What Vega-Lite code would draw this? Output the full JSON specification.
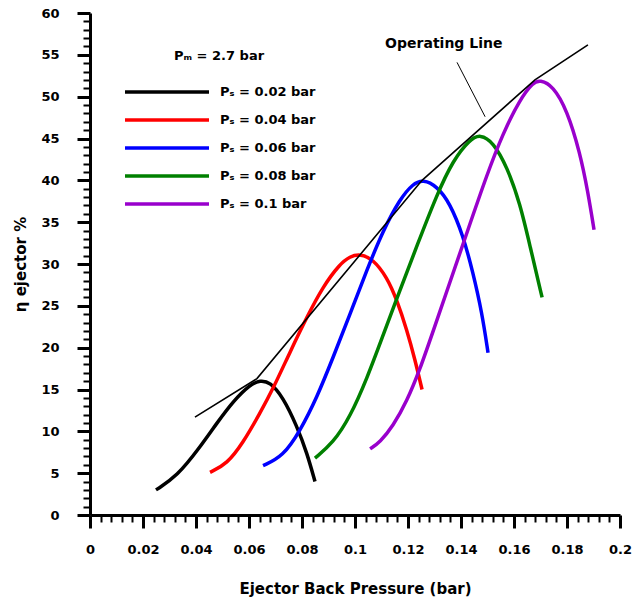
{
  "$schema": "https://vega.github.io/schema/vega-lite/v6.json",
  "width": 530,
  "height": 502,
  "autosize": {"type": "none"},
  "padding": {"left": 90, "top": 13, "right": 12, "bottom": 85},
  "config": {
    "view": {"stroke": null},
    "font": "DejaVu Sans",
    "axis": {"grid": false, "domainColor": "black", "tickColor": "black", "labelColor": "black", "titleColor": "black"}
  },
  "datasets": {
    "curves": [
      {"ps": 0.02, "x": 0.0249, "y": 3.0}, {"ps": 0.02, "x": 0.0328, "y": 4.6}, {"ps": 0.02, "x": 0.0415, "y": 8.1}, {"ps": 0.02, "x": 0.0479, "y": 11.0}, {"ps": 0.02, "x": 0.054, "y": 13.6}, {"ps": 0.02, "x": 0.0604, "y": 15.6}, {"ps": 0.02, "x": 0.0642, "y": 16.1}, {"ps": 0.02, "x": 0.0679, "y": 15.9}, {"ps": 0.02, "x": 0.0728, "y": 14.1}, {"ps": 0.02, "x": 0.0781, "y": 10.6}, {"ps": 0.02, "x": 0.0819, "y": 7.4}, {"ps": 0.02, "x": 0.0849, "y": 4.0},
      {"ps": 0.04, "x": 0.0453, "y": 5.1}, {"ps": 0.04, "x": 0.0517, "y": 6.1}, {"ps": 0.04, "x": 0.0577, "y": 8.6}, {"ps": 0.04, "x": 0.0642, "y": 12.2}, {"ps": 0.04, "x": 0.0691, "y": 15.1}, {"ps": 0.04, "x": 0.0755, "y": 19.5}, {"ps": 0.04, "x": 0.0819, "y": 23.7}, {"ps": 0.04, "x": 0.0879, "y": 27.3}, {"ps": 0.04, "x": 0.0943, "y": 30.0}, {"ps": 0.04, "x": 0.0981, "y": 30.9}, {"ps": 0.04, "x": 0.1019, "y": 31.2}, {"ps": 0.04, "x": 0.1068, "y": 30.6}, {"ps": 0.04, "x": 0.1121, "y": 28.4}, {"ps": 0.04, "x": 0.1158, "y": 25.7}, {"ps": 0.04, "x": 0.1196, "y": 22.1}, {"ps": 0.04, "x": 0.1226, "y": 18.6}, {"ps": 0.04, "x": 0.1253, "y": 15.0},
      {"ps": 0.06, "x": 0.0653, "y": 5.9}, {"ps": 0.06, "x": 0.0728, "y": 7.0}, {"ps": 0.06, "x": 0.0792, "y": 10.0}, {"ps": 0.06, "x": 0.0857, "y": 14.1}, {"ps": 0.06, "x": 0.0917, "y": 18.8}, {"ps": 0.06, "x": 0.0981, "y": 24.0}, {"ps": 0.06, "x": 0.1045, "y": 29.3}, {"ps": 0.06, "x": 0.1106, "y": 34.0}, {"ps": 0.06, "x": 0.117, "y": 37.8}, {"ps": 0.06, "x": 0.1219, "y": 39.6}, {"ps": 0.06, "x": 0.1257, "y": 40.1}, {"ps": 0.06, "x": 0.1309, "y": 39.3}, {"ps": 0.06, "x": 0.1358, "y": 37.3}, {"ps": 0.06, "x": 0.1408, "y": 33.4}, {"ps": 0.06, "x": 0.1445, "y": 29.0}, {"ps": 0.06, "x": 0.1479, "y": 24.2}, {"ps": 0.06, "x": 0.1502, "y": 19.4},
      {"ps": 0.08, "x": 0.0849, "y": 6.8}, {"ps": 0.08, "x": 0.0917, "y": 8.6}, {"ps": 0.08, "x": 0.0981, "y": 11.7}, {"ps": 0.08, "x": 0.1045, "y": 16.3}, {"ps": 0.08, "x": 0.1106, "y": 21.5}, {"ps": 0.08, "x": 0.117, "y": 26.9}, {"ps": 0.08, "x": 0.1234, "y": 32.2}, {"ps": 0.08, "x": 0.1309, "y": 38.3}, {"ps": 0.08, "x": 0.137, "y": 42.4}, {"ps": 0.08, "x": 0.1434, "y": 44.9}, {"ps": 0.08, "x": 0.1472, "y": 45.5}, {"ps": 0.08, "x": 0.1521, "y": 44.6}, {"ps": 0.08, "x": 0.1574, "y": 41.6}, {"ps": 0.08, "x": 0.1623, "y": 37.2}, {"ps": 0.08, "x": 0.166, "y": 32.2}, {"ps": 0.08, "x": 0.1706, "y": 26.0},
      {"ps": 0.1, "x": 0.1057, "y": 7.9}, {"ps": 0.1, "x": 0.1094, "y": 8.7}, {"ps": 0.1, "x": 0.1143, "y": 10.6}, {"ps": 0.1, "x": 0.1196, "y": 13.6}, {"ps": 0.1, "x": 0.1245, "y": 17.4}, {"ps": 0.1, "x": 0.1294, "y": 21.9}, {"ps": 0.1, "x": 0.1358, "y": 27.8}, {"ps": 0.1, "x": 0.1423, "y": 33.8}, {"ps": 0.1, "x": 0.1498, "y": 40.7}, {"ps": 0.1, "x": 0.1558, "y": 45.6}, {"ps": 0.1, "x": 0.1623, "y": 49.7}, {"ps": 0.1, "x": 0.1672, "y": 51.7}, {"ps": 0.1, "x": 0.1698, "y": 52.0}, {"ps": 0.1, "x": 0.1747, "y": 51.3}, {"ps": 0.1, "x": 0.18, "y": 48.4}, {"ps": 0.1, "x": 0.1849, "y": 43.3}, {"ps": 0.1, "x": 0.1879, "y": 38.6}, {"ps": 0.1, "x": 0.1902, "y": 34.1}
    ],
    "opline": [
      {"x": 0.0396, "y": 11.7}, {"x": 0.063, "y": 16.3}, {"x": 0.1253, "y": 40.0}, {"x": 0.1679, "y": 52.0}, {"x": 0.1879, "y": 56.2}
    ],
    "pointer": [
      {"x": 0.1385, "y": 54.1}, {"x": 0.1491, "y": 47.6}
    ],
    "notes": [
      {"x": 0.1335, "y": 56.3, "text": "Operating Line"}
    ]
  },
  "resolve": {"axis": {"x": "independent", "y": "independent"}},
  "layer": [
    {
      "data": {"name": "opline"},
      "mark": {"type": "point", "opacity": 0},
      "encoding": {
        "x": {"field": "x", "type": "quantitative", "scale": {"domain": [0, 0.2], "nice": false, "zero": false},
          "axis": {"orient": "bottom", "values": [0.004, 0.008, 0.012, 0.016, 0.024, 0.028, 0.032, 0.036, 0.044, 0.048, 0.052, 0.056, 0.064, 0.068, 0.072, 0.076, 0.084, 0.088, 0.092, 0.096, 0.104, 0.108, 0.112, 0.116, 0.124, 0.128, 0.132, 0.136, 0.144, 0.148, 0.152, 0.156, 0.164, 0.168, 0.172, 0.176, 0.184, 0.188, 0.192, 0.196], "labels": false, "domain": false, "tickSize": 7, "tickWidth": 2, "title": null}},
        "y": {"field": "y", "type": "quantitative", "scale": {"domain": [0, 60], "nice": false},
          "axis": {"orient": "left", "values": [1, 2, 3, 4, 6, 7, 8, 9, 11, 12, 13, 14, 16, 17, 18, 19, 21, 22, 23, 24, 26, 27, 28, 29, 31, 32, 33, 34, 36, 37, 38, 39, 41, 42, 43, 44, 46, 47, 48, 49, 51, 52, 53, 54, 56, 57, 58, 59], "labels": false, "domain": false, "tickSize": 7, "tickWidth": 2, "title": null}}
      }
    },
    {
      "data": {"name": "curves"},
      "mark": {"type": "line", "interpolate": "basis", "strokeWidth": 3.5, "strokeCap": "butt"},
      "encoding": {
        "x": {"field": "x", "type": "quantitative", "scale": {"domain": [0, 0.2], "nice": false, "zero": false},
          "axis": {"orient": "bottom", "values": [0, 0.02, 0.04, 0.06, 0.08, 0.1, 0.12, 0.14, 0.16, 0.18, 0.2], "format": "~g", "tickSize": 13, "tickWidth": 3, "domainWidth": 3, "labelFontSize": 13, "labelFontWeight": "bold", "labelPadding": 15, "labelFlush": false, "title": "Ejector Back Pressure (bar)", "titleFontSize": 15, "titleFontWeight": "bold", "titlePadding": 25}},
        "y": {"field": "y", "type": "quantitative", "scale": {"domain": [0, 60], "nice": false},
          "axis": {"orient": "left", "values": [0, 5, 10, 15, 20, 25, 30, 35, 40, 45, 50, 55, 60], "format": "d", "tickSize": 13, "tickWidth": 3, "domainWidth": 3, "labelFontSize": 13, "labelFontWeight": "bold", "labelPadding": 18, "labelFlush": false, "title": "η ejector %", "titleFontSize": 15, "titleFontWeight": "bold", "titlePadding": 12}},
        "color": {"field": "ps", "type": "nominal",
          "scale": {"domain": [0.02, 0.04, 0.06, 0.08, 0.1], "range": ["#000000", "#ff0000", "#0000ff", "#008000", "#9900cc"]},
          "legend": {"orient": "none", "legendX": 33, "legendY": 37, "padding": 0, "title": "Pₘ = 2.7 bar", "titleAnchor": "middle", "titleFontSize": 13, "titleFontWeight": "bold", "titlePadding": 21, "symbolType": "stroke", "symbolSize": 7056, "symbolStrokeWidth": 3.5, "clipHeight": 16, "rowPadding": 12, "labelOffset": 9, "labelFontSize": 13, "labelFontWeight": "bold", "labelLimit": 300, "labelExpr": "'Pₛ = ' + datum.label + ' bar'"}}
      }
    },
    {
      "data": {"name": "opline"},
      "mark": {"type": "line", "color": "black", "strokeWidth": 1.6},
      "encoding": {
        "x": {"field": "x", "type": "quantitative", "scale": {"domain": [0, 0.2], "nice": false, "zero": false}, "axis": null},
        "y": {"field": "y", "type": "quantitative", "scale": {"domain": [0, 60], "nice": false}, "axis": null}
      }
    },
    {
      "data": {"name": "pointer"},
      "mark": {"type": "line", "color": "black", "strokeWidth": 1},
      "encoding": {
        "x": {"field": "x", "type": "quantitative", "scale": {"domain": [0, 0.2], "nice": false, "zero": false}, "axis": null},
        "y": {"field": "y", "type": "quantitative", "scale": {"domain": [0, 60], "nice": false}, "axis": null}
      }
    },
    {
      "data": {"name": "notes"},
      "mark": {"type": "text", "fontSize": 14, "fontWeight": "bold", "color": "black", "align": "center", "baseline": "middle"},
      "encoding": {
        "x": {"field": "x", "type": "quantitative", "scale": {"domain": [0, 0.2], "nice": false, "zero": false}, "axis": null},
        "y": {"field": "y", "type": "quantitative", "scale": {"domain": [0, 60], "nice": false}, "axis": null},
        "text": {"field": "text"}
      }
    }
  ]
}
